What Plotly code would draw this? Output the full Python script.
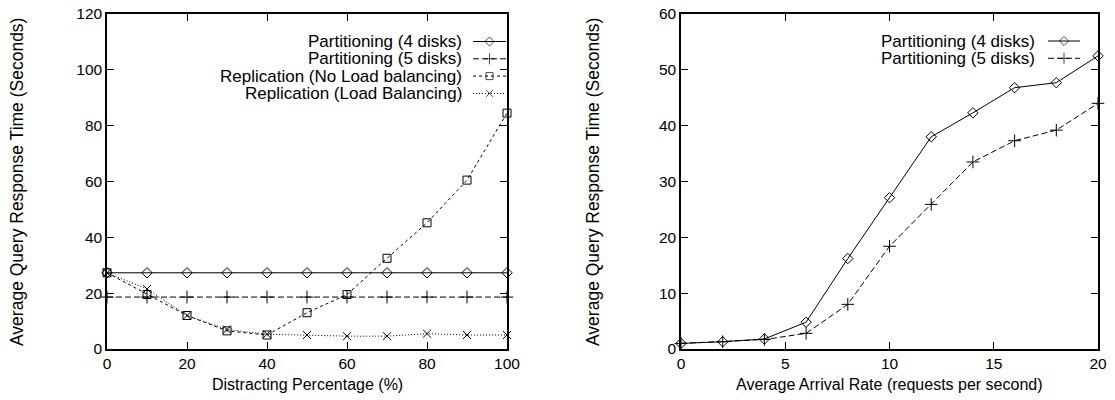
import plotly.graph_objects as go

# ---- data: left chart ----
pct = [0, 10, 20, 30, 40, 50, 60, 70, 80, 90, 100]
part4_left = [27.3] * 11
part5_left = [18.6] * 11
repl_nolb = [27.3, 19.5, 12.0, 6.5, 5.0, 13.0, 19.5, 32.5, 45.2, 60.5, 84.5]
repl_lb = [27.3, 21.5, 12.0, 7.0, 5.3, 5.0, 4.6, 4.6, 5.5, 5.0, 5.0]

# ---- data: right chart ----
rate = [0, 2, 4, 6, 8, 10, 12, 14, 16, 18, 20]
part4_right = [1.0, 1.3, 1.8, 4.8, 16.2, 27.1, 38.0, 42.3, 46.8, 47.7, 52.5]
part5_right = [1.0, 1.3, 1.7, 2.8, 8.0, 18.4, 25.9, 33.5, 37.3, 39.2, 44.0]

left_xticks = [0, 20, 40, 60, 80, 100]
left_yticks = [0, 20, 40, 60, 80, 100, 120]
right_yticks = [0, 10, 20, 30, 40, 50, 60]
right_xticks = [0, 5, 10, 15, 20]

names_left = ["Partitioning (4 disks)", "Partitioning (5 disks)",
              "Replication (No Load balancing)", "Replication (Load Balancing)"]
names_right = ["Partitioning (4 disks)", "Partitioning (5 disks)"]
ytitle = "Average Query Response Time (Seconds)"
xtitle_left = "Distracting Percentage (%)"
xtitle_right = "Average Arrival Rate (requests per second)"

FONT = "Liberation Sans, Arial, Helvetica, sans-serif"
styles = [
    dict(dash="solid", symbol="diamond-open", size=8),
    dict(dash="6px,3px", symbol="cross-thin-open", size=9),
    dict(dash="3px,3px", symbol="square-open", size=8),
    dict(dash="1px,2px", symbol="x-thin-open", size=8),
]

fig = go.Figure()

def add_series(x, y, st, xa, ya):
    fig.add_trace(go.Scatter(
        x=x, y=y, mode="lines+markers", xaxis=xa, yaxis=ya, cliponaxis=False,
        line=dict(color="black", width=1, dash=st["dash"]),
        marker=dict(symbol=st["symbol"], size=st["size"], color="black",
                    line=dict(color="black", width=1)),
        showlegend=False, hoverinfo="skip"))

for y, st in zip([part4_left, part5_left, repl_nolb, repl_lb], styles):
    add_series(pct, y, st, "x", "y")
for y, st in zip([part4_right, part5_right], styles[:2]):
    add_series(rate, y, st, "x2", "y2")

# ---- custom legends (text left of sample) on a pixel overlay axis ----
def add_legend(names, text_right, x0, x1, y0, dy):
    for i, name in enumerate(names):
        st = styles[i]
        yy = y0 + i * dy
        xm = (x0 + x1) / 2
        fig.add_trace(go.Scatter(
            x=[x0, xm, x1], y=[yy, yy, yy], mode="lines+markers",
            xaxis="x3", yaxis="y3",
            line=dict(color="black", width=1, dash=st["dash"]),
            marker=dict(symbol=st["symbol"], size=[0, st["size"] - 1, 0], color="black",
                        line=dict(color="black", width=1)),
            showlegend=False, hoverinfo="skip"))
        fig.add_annotation(x=text_right, y=yy, xref="x3", yref="y3", text=name,
                           showarrow=False, xanchor="right", yanchor="middle",
                           font=dict(family=FONT, size=17, color="black"))

add_legend(names_left, 464, 473, 506, 41.5, 17.3)
add_legend(names_right, 1037, 1048, 1080, 41, 17.3)

# axis titles (pixel overlay)
def title(text, x, y, angle=0, size=16):
    fig.add_annotation(x=x, y=y, xref="x3", yref="y3", text=text, showarrow=False,
                       textangle=angle, xanchor="center", yanchor="middle",
                       font=dict(family=FONT, size=size, color="black"))

title(xtitle_left, 307, 384)
title(xtitle_right, 889, 384)
title(ytitle, 17, 182, -90, 17.5)
title(ytitle, 593, 182, -90, 17.5)

axis_common = dict(showline=True, linecolor="black", linewidth=1.5, mirror="ticks",
                   ticks="inside", ticklen=7, tickcolor="black", tickwidth=1,
                   showgrid=False, zeroline=False, automargin=False,
                   tickfont=dict(family=FONT, size=15.5, color="black"))

fig.update_layout(
    width=1115, height=400, margin=dict(l=0, r=0, t=0, b=0),
    plot_bgcolor="rgba(0,0,0,0)", paper_bgcolor="white",
    font=dict(family=FONT, color="black"),
    xaxis=dict(domain=[107/1115, 507/1115], range=[0, 100], tickvals=left_xticks,
               anchor="y", **axis_common),
    yaxis=dict(domain=[(400-349)/400, (400-14)/400], range=[0, 120], tickvals=left_yticks,
               anchor="x", **axis_common),
    xaxis2=dict(domain=[681/1115, 1098/1115], range=[0, 20], tickvals=right_xticks,
                anchor="y2", **axis_common),
    yaxis2=dict(domain=[(400-349)/400, (400-14)/400], range=[0, 60], tickvals=right_yticks,
                anchor="x2", **axis_common),
    xaxis3=dict(domain=[0, 1], range=[0, 1115], visible=False, fixedrange=True, anchor="y3"),
    yaxis3=dict(domain=[0, 1], range=[400, 0], visible=False, fixedrange=True, anchor="x3"),
)

fig.write_html("out.html")
